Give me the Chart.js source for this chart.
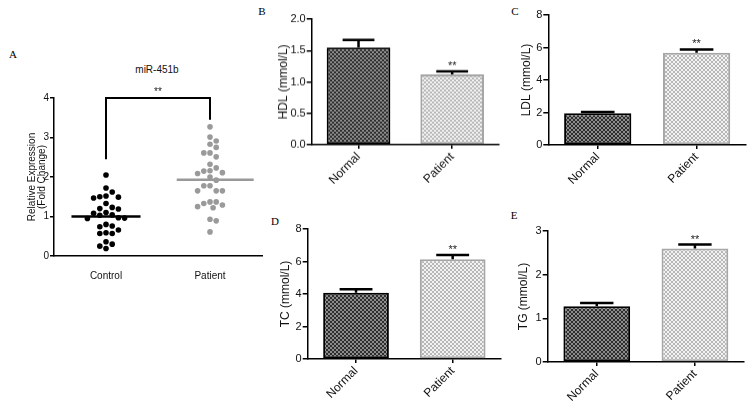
<!DOCTYPE html>
<html><head><meta charset="utf-8">
<script src="https://cdn.jsdelivr.net/npm/chart.js@4.4.0/dist/chart.umd.min.js"></script>
<style>
body{margin:0;width:748px;height:405px;background:#fff;position:relative;overflow:hidden;font-family:"Liberation Sans",Arial,sans-serif;}
canvas{position:absolute;}
.lt{position:absolute;font-family:"Liberation Serif","Times New Roman",serif;font-size:11px;color:#000;transform:translate(-50%,-50%);line-height:1;}
.tt{position:absolute;font-family:"Liberation Sans",Arial,sans-serif;font-size:10px;color:#111;transform:translate(-50%,-50%);line-height:1;white-space:nowrap;}
</style></head><body>
<div class="lt" style="left:13px;top:54px">A</div>
<div class="lt" style="left:262px;top:11px">B</div>
<div class="lt" style="left:515px;top:11px">C</div>
<div class="lt" style="left:275px;top:221px">D</div>
<div class="lt" style="left:514px;top:215px">E</div>
<div class="tt" style="left:157px;top:70px">miR-451b</div>
<script>
// ---------- data ----------
const groupsA = ['Control', 'Patient'];
const controlValues = [2.05,1.72,1.52,1.49,1.47,1.50,1.62,1.23,1.19,1.20,1.33,1.08,1.03,0.96,0.95,0.97,1.04,1.10,0.80,0.74,0.76,0.66,0.57,0.57,0.59,0.30,0.19,0.25,0.36];
const patientValues = [3.27,3.01,2.91,2.83,2.75,2.61,2.51,2.61,2.32,2.23,2.15,2.09,2.11,2.16,2.00,1.92,1.78,1.65,1.65,1.65,1.78,1.37,1.37,1.33,1.29,1.25,1.22,0.93,0.89,0.61];
const groupMeans = [1.00, 1.93];
const bracketLegs = [2.45, 3.45];
const bracketTop = 4;
const ticksA = [0,1,2,3,4];

const barCategories = ['Normal', 'Patient'];
const hdlValues = [1.55, 1.12];
const hdlErrors = [0.12, 0.05];
const ldlValues = [1.95, 5.68];
const ldlErrors = [0.08, 0.20];
const tcValues  = [4.07, 6.14];
const tcErrors  = [0.22, 0.26];
const tgValues  = [1.275, 2.60];
const tgErrors  = [0.075, 0.09];
const sigLabels = ['', '**'];
const hdlTicks = [0, 0.5, 1.0, 1.5, 2.0];
const ldlTicks = [0, 2, 4, 6, 8];
const tcTicks  = [0, 2, 4, 6, 8];
const tgTicks  = [0, 1, 2, 3];

// ---------- helpers ----------
const FONT = '"Liberation Sans", Arial, sans-serif';
function makePattern(c1, c2, cell){
  const p = document.createElement('canvas');
  p.width = p.height = cell*2;
  const g = p.getContext('2d');
  g.fillStyle = c1; g.fillRect(0,0,cell*2,cell*2);
  g.fillStyle = c2; g.fillRect(0,0,cell,cell); g.fillRect(cell,cell,cell,cell);
  return g.createPattern(p,'repeat');
}
function makeCanvas(left, top, w, h){
  const c = document.createElement('canvas');
  c.width = w; c.height = h;
  c.style.left = left+'px'; c.style.top = top+'px';
  c.style.width = w+'px'; c.style.height = h+'px';
  document.body.appendChild(c);
  return c;
}
function swarm(values, pxX, pxY, d){
  const placed = [];
  const offs = new Array(values.length).fill(0);
  const order = values.map((v,i)=>i).sort((a,b)=>values[b]-values[a]);
  for (const i of order){
    const y = values[i]*pxY;
    for (let k=0;k<60;k++){
      const step = k===0?0:(k%2?1:-1)*Math.ceil(k/2);
      const x = step*d*0.5;
      if (placed.every(p => Math.hypot(p[0]-x, p[1]-y) >= d)){
        placed.push([x,y]); offs[i] = x/pxX; break;
      }
    }
  }
  return offs;
}

const errPlugin = {
  id:'errbars',
  afterDatasetsDraw(chart, args, opts){
    const meta = chart.getDatasetMeta(0);
    const ys = chart.scales.y;
    const ctx = chart.ctx;
    const vals = chart.data.datasets[0].data;
    ctx.save();
    meta.data.forEach((bar, i) => {
      const top = ys.getPixelForValue(vals[i] + opts.errors[i]);
      const half = bar.width/4;
      ctx.strokeStyle = '#000';
      ctx.lineWidth = 2.5;
      ctx.beginPath();
      ctx.moveTo(bar.x, bar.y); ctx.lineTo(bar.x, top);
      ctx.moveTo(bar.x-half, top); ctx.lineTo(bar.x+half, top);
      ctx.stroke();
      if (opts.sig[i]){
        ctx.fillStyle = '#222';
        ctx.font = '11px ' + FONT;
        ctx.textAlign = 'center'; ctx.textBaseline = 'alphabetic';
        ctx.fillText(opts.sig[i], bar.x, top - 2);
      }
    });
    ctx.restore();
  }
};

const sigPluginA = {
  id:'sigA',
  afterDatasetsDraw(chart){
    const ctx = chart.ctx;
    const x = chart.scales.x.getPixelForValue(1.5);
    const y = chart.scales.y.getPixelForValue(bracketTop);
    ctx.save();
    ctx.fillStyle = '#222'; ctx.font = '10px ' + FONT;
    ctx.textAlign = 'center'; ctx.textBaseline = 'alphabetic';
    ctx.fillText('**', x, y - 3);
    ctx.restore();
  }
};

// ---------- panel A ----------
(function(){
  const area = {left:54, top:97.7, right:262, bottom:256};
  const padTop = 14, padRight = 4, yW = 54, xH = 32;
  const cl = area.left - yW, ct = area.top - padTop;
  const c = makeCanvas(cl, ct, area.right + padRight - cl, area.bottom + xH - ct);
  const pxX = (area.right-area.left)/2, pxY = (area.bottom-area.top)/4;
  const offC = swarm(controlValues, pxX, pxY, 6.2);
  const offP = swarm(patientValues, pxX, pxY, 6.2);
  new Chart(c, {
    type:'scatter',
    data:{datasets:[
      {data:controlValues.map((v,i)=>({x:1+offC[i], y:v})), pointRadius:2.8, pointBackgroundColor:'#000', pointBorderWidth:0, clip:false},
      {data:patientValues.map((v,i)=>({x:2+offP[i], y:v})), pointRadius:2.8, pointBackgroundColor:'#9a9a9a', pointBorderWidth:0, clip:false},
      {data:[{x:1-0.332,y:groupMeans[0]},{x:1+0.332,y:groupMeans[0]}], showLine:true, borderColor:'#000', borderWidth:2.5, pointRadius:0, clip:false},
      {data:[{x:2-0.32,y:groupMeans[1]},{x:2+0.42,y:groupMeans[1]}], showLine:true, borderColor:'#999', borderWidth:2.5, pointRadius:0, clip:false},
      {data:[{x:1,y:bracketLegs[0]},{x:1,y:bracketTop},{x:2,y:bracketTop},{x:2,y:bracketLegs[1]}], showLine:true, borderColor:'#000', borderWidth:2, pointRadius:0, clip:false, tension:0}
    ]},
    options:{
      responsive:false, animation:false,
      layout:{padding:{top:padTop, right:padRight, left:0, bottom:0}},
      plugins:{legend:{display:false}, tooltip:{enabled:false}},
      scales:{
        x:{type:'linear', min:0.5, max:2.5,
          afterBuildTicks(s){ s.ticks = [{value:1},{value:2}]; },
          ticks:{callback:(v)=>groupsA[Math.round(v)-1], font:{family:FONT,size:10}, color:'#111', padding:6},
          grid:{display:false}, border:{display:true, color:'#000', width:1.5},
          afterFit(s){ s.height = xH; }},
        y:{min:0, max:4,
          afterBuildTicks(s){ s.ticks = ticksA.map(v=>({value:v})); },
          ticks:{font:{family:FONT,size:10}, color:'#111', padding:1},
          grid:{drawOnChartArea:false, tickLength:4, color:'#000', lineWidth:1.5},
          border:{color:'#000', width:1.5},
          title:{display:true, text:['Relative Expression','(Fold Change)'], font:{family:FONT,size:10,lineHeight:1.0}, color:'#111', padding:{top:27,bottom:0}},
          afterFit(s){ s.width = yW; }}
      }
    },
    plugins:[sigPluginA]
  });
})();

// ---------- bar panels ----------
const darkPat = makePattern('#8c8c8c', '#2e2e2e', 2);
const lightPat = makePattern('#f2f2f2', '#b8b8b8', 2);

function barPanel(area, canvasLeft, vals, errs, ticks, decimals, title, titleX){
  const padTop = 12, padRight = 2, xH = 55;
  const yW = area.left - canvasLeft;
  const ct = area.top - padTop;
  const c = makeCanvas(canvasLeft, ct, area.right + padRight - canvasLeft, area.bottom + xH - ct);
  const titlePad = titleX - canvasLeft - 12*1.2/2;
  new Chart(c, {
    type:'bar',
    data:{labels:barCategories, datasets:[{data:vals, backgroundColor:[darkPat, lightPat], borderColor:['#000','#a6a6a6'], borderWidth:2, borderSkipped:false, barPercentage:0.68, categoryPercentage:1}]},
    options:{
      responsive:false, animation:false,
      layout:{padding:{top:padTop, right:padRight, left:0, bottom:0}},
      plugins:{legend:{display:false}, tooltip:{enabled:false}, errbars:{errors:errs, sig:sigLabels}},
      scales:{
        x:{grid:{display:true, drawOnChartArea:false, offset:false, tickLength:4, color:'#000', lineWidth:1.5},
          border:{color:'#000', width:1.5},
          ticks:{maxRotation:45, minRotation:45, padding:1, font:{family:FONT,size:12}, color:'#111'},
          afterFit(s){ s.height = xH; }},
        y:{min:ticks[0], max:ticks[ticks.length-1],
          afterBuildTicks(s){ s.ticks = ticks.map(v=>({value:v})); },
          ticks:{callback:(v)=>Number(v).toFixed(decimals), font:{family:FONT,size:11}, color:'#111', padding:1},
          grid:{drawOnChartArea:false, tickLength:5, color:'#000', lineWidth:1.5},
          border:{color:'#000', width:1.5},
          title:{display:true, text:title, font:{family:FONT,size:12}, color:'#111', padding:{top:titlePad,bottom:0}},
          afterFit(s){ s.width = yW; }}
      }
    },
    plugins:[errPlugin]
  });
}

barPanel({left:311.7, top:19.3, right:499, bottom:145}, 262, hdlValues, hdlErrors, hdlTicks, 1, 'HDL (mmol/L)', 283.3);
barPanel({left:548.3, top:15, right:746, bottom:145}, 505, ldlValues, ldlErrors, ldlTicks, 0, 'LDL (mmol/L)', 526.7);
barPanel({left:307.7, top:229, right:501, bottom:359.3}, 262, tcValues, tcErrors, tcTicks, 0, 'TC (mmol/L)', 286);
barPanel({left:547.7, top:230.7, right:744, bottom:361.7}, 505, tgValues, tgErrors, tgTicks, 0, 'TG (mmol/L)', 524);
</script>
</body></html>
